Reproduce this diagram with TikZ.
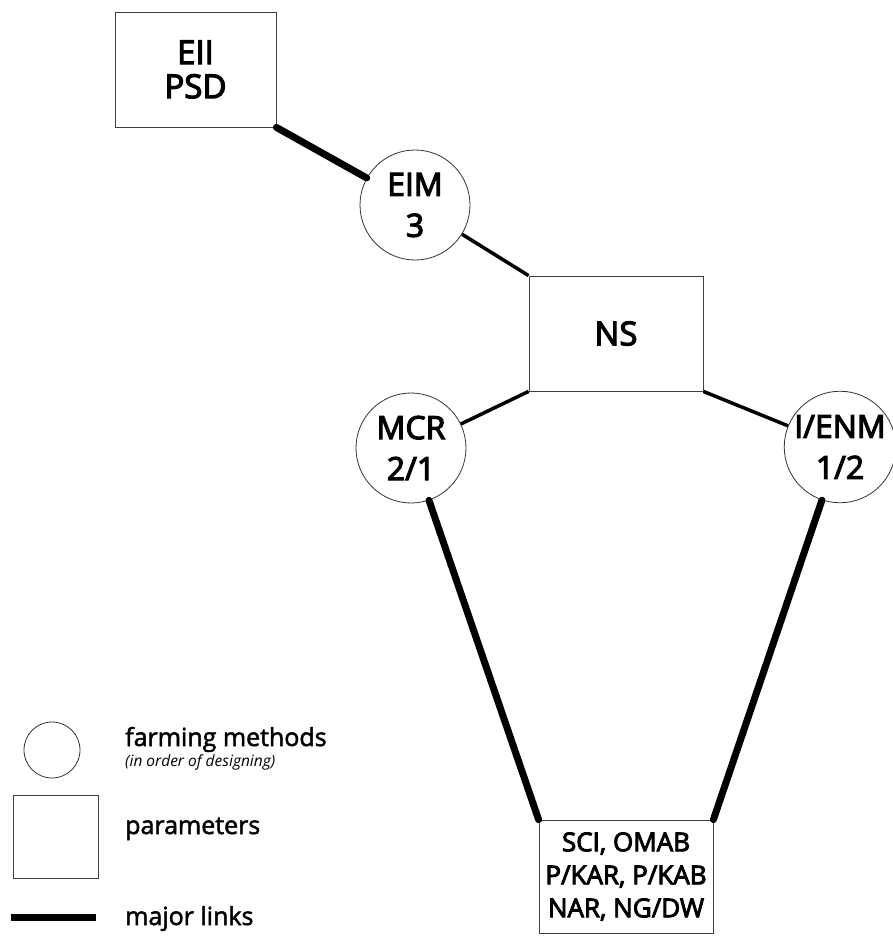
\documentclass[tikz,border=0pt]{standalone}
\usepackage{fontspec}
\setmainfont{Open Sans}
\newfontfamily\labelfont{Open Sans}[FakeBold=3.5]
\newfontfamily\legendfont{Open Sans}[FakeBold=2]
\begin{document}
\begin{tikzpicture}[x=1pt,y=-1pt,
  param/.style={draw=black!75, line width=0.8pt, rectangle, inner sep=0pt, align=center},
  method/.style={draw=black!80, line width=0.8pt, circle, inner sep=0pt, minimum size=110pt,
                 align=center, font=\labelfont\fontsize{32}{41}\selectfont},
  major/.style={line width=7pt, line cap=round},
  minor/.style={line width=3.5pt},
  legendtext/.style={anchor=base west, inner sep=0pt, font=\legendfont\fontsize{25}{30}\selectfont},
  legendnote/.style={anchor=base west, inner sep=0pt, font=\fontsize{15.5}{18}\selectfont\itshape}]
\useasboundingbox (0,0) rectangle (892,937);

% parameters
\node[param, minimum width=161pt, minimum height=115pt, font=\labelfont\fontsize{33}{34}\selectfont]
  (eii) at (195.5,69.5) {EII\\PSD};
\node[param, minimum width=174pt, minimum height=115pt, font=\labelfont\fontsize{33}{34}\selectfont]
  (ns) at (616,333.5) {NS};
\node[param, minimum width=174pt, minimum height=113pt, font=\labelfont\fontsize{26}{33}\selectfont]
  (bot) at (626,876.5) {SCI, OMAB\\P/KAR, P/KAB\\NAR, NG/DW};

% farming methods
\node[method] (eim) at (415,205) {EIM\\3};
\node[method] (mcr) at (411,448) {MCR\\2/1};
\node[method, minimum size=104pt] (ienm) at (840,447) {I/ENM\\1/2};

% links
\draw[major] (eii.south east) -- (eim);
\draw[minor] (eim) -- (ns.north west);
\draw[minor] (ns.south west) -- (mcr);
\draw[minor] (ns.south east) -- (ienm);
\draw[major] (mcr) -- (bot.north west);
\draw[major] (ienm) -- (bot.north east);

% legend
\node[method, minimum size=56pt] (lcirc) at (52,750) {};
\node[legendtext] (lcirct) at (125,746) {farming methods};
\node[legendnote] (lcircn) at (125,766) {(in order of designing)};
\node[param, minimum width=85pt, minimum height=83pt] (lsq) at (55.5,836.5) {};
\node[legendtext] (lsqt) at (125,834) {parameters};
\coordinate (lla) at (11,917);
\coordinate (llb) at (96,917);
\draw[major, line cap=butt] (lla) -- (llb);
\node[legendtext] (llt) at (125,925) {major links};
\end{tikzpicture}
\end{document}
